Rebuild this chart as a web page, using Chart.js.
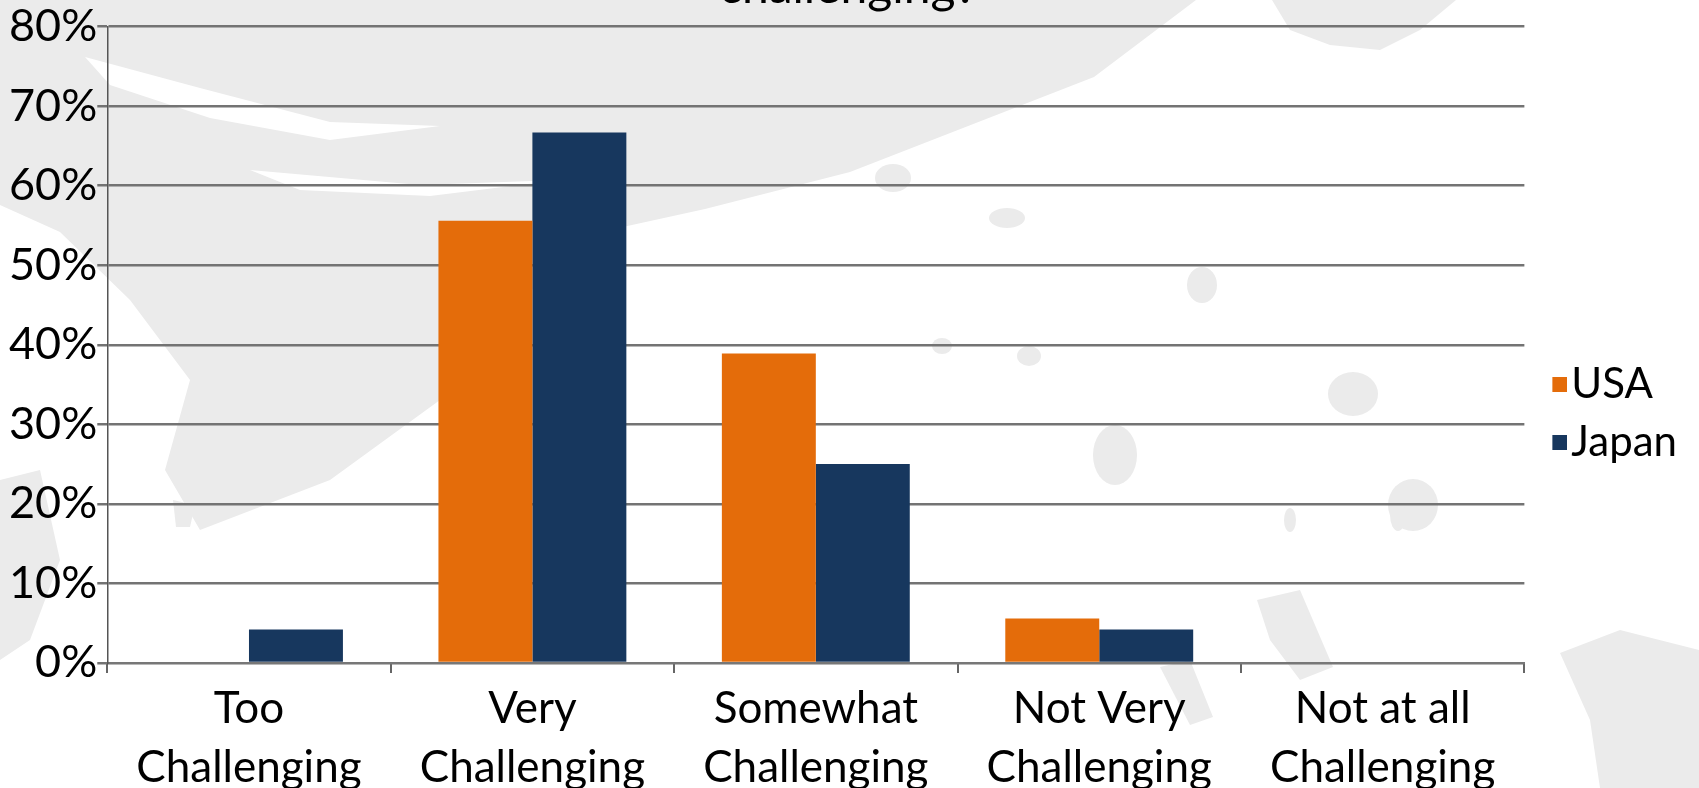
<!DOCTYPE html>
<html>
<head>
<meta charset="utf-8">
<script src="https://cdn.jsdelivr.net/npm/chart.js@4.4.1/dist/chart.umd.min.js"></script>
<style>
  html, body { margin: 0; padding: 0; background: #fff; overflow: hidden; }
  #wrap { position: absolute; left: 0; top: -41px; width: 1699px; height: 845px; }
</style>
</head>
<body>
<div id="wrap"><canvas id="chart"></canvas></div>
<script>
// respuestas por categoria (%)
const categories = [
    ['Too', 'Challenging'],
    ['Very', 'Challenging'],
    ['Somewhat', 'Challenging'],
    ['Not Very', 'Challenging'],
    ['Not at all', 'Challenging']
];
const usaValues = [0, 55.6, 38.9, 5.6, 0];
const japanValues = [4.2, 66.7, 25.0, 4.2, 0];
const seriesNames = ['USA', 'Japan'];
const seriesColors = ['#E46C0A', '#17375E'];
const yMax = 80;
const yStep = 10;

const FONT = 'Lato';
const OFFSET_Y = 41; // el canvas empieza 41px por encima de la pagina

// cuadrito de leyenda pegado al texto
function swatch(color) {
    const c = document.createElement('canvas');
    c.width = 44;
    c.height = 15;
    const g = c.getContext('2d');
    g.fillStyle = color;
    g.fillRect(29, 0, 15, 15);
    return c;
}

// fondo tipo pincelada gris (coordenadas de pagina)
const brushShapes = [
    [[0,0],[1196,0],[1094,77],[850,172],[705,209],[600,232],[520,300],[440,400],[330,480],[200,530],[165,470],[190,380],[130,300],[60,232],[0,205]],
    [[1272,0],[1456,0],[1420,30],[1380,50],[1330,45],[1290,30]],
    [[1257,600],[1300,590],[1333,667],[1300,680],[1270,640]],
    [[1160,667],[1190,660],[1213,717],[1190,725]],
    [[1560,653],[1620,630],[1699,650],[1699,788],[1600,788],[1590,720]],
    [[173,500],[195,505],[190,527],[176,527]],
    [[0,480],[40,470],[60,560],[30,640],[0,660]]
];
// vetas blancas dentro de la pincelada
const whiteStrokes = [
    [[85,57],[200,88],[330,122],[440,126],[330,140],[210,118],[110,85]],
    [[250,170],[420,185],[560,180],[430,196],[300,190]]
];
const brushBlobs = [[893,178,18,14],[1007,218,18,10],[1202,285,15,18],[1353,394,25,22],[1115,455,22,30],[1413,505,25,26],[942,346,10,8],[1029,356,12,10],[1290,520,6,12],[1398,515,8,16]];

const brushBackground = {
    id: 'brushBackground',
    beforeDraw(chart) {
        const ctx = chart.ctx;
        const poly = pts => {
            ctx.beginPath();
            pts.forEach((p, i) => i ? ctx.lineTo(p[0], p[1]) : ctx.moveTo(p[0], p[1]));
            ctx.closePath();
            ctx.fill();
        };
        ctx.save();
        ctx.translate(0, OFFSET_Y);
        ctx.fillStyle = '#ebebeb';
        brushShapes.forEach(poly);
        brushBlobs.forEach(b => {
            ctx.beginPath();
            ctx.ellipse(b[0], b[1], b[2], b[3], 0, 0, Math.PI * 2);
            ctx.fill();
        });
        ctx.fillStyle = '#ffffff';
        whiteStrokes.forEach(poly);
        ctx.restore();
    }
};

new Chart(document.getElementById('chart'), {
    type: 'bar',
    data: {
        labels: categories,
        datasets: [
            { label: seriesNames[0], data: usaValues, backgroundColor: seriesColors[0] },
            { label: seriesNames[1], data: japanValues, backgroundColor: seriesColors[1] }
        ]
    },
    options: {
        responsive: true,
        maintainAspectRatio: false,
        animation: false,
        layout: { padding: { left: 9, right: 12, top: 0, bottom: 0 } },
        datasets: { bar: { categoryPercentage: 0.663, barPercentage: 1.0 } },
        plugins: {
            title: {
                display: true,
                text: 'challenging?',
                color: '#000',
                font: { family: FONT, size: 48, weight: 'normal' },
                padding: { top: 0, bottom: 10 }
            },
            legend: {
                position: 'right',
                title: { display: true, text: '', padding: { top: 50, bottom: 0 } },
                labels: {
                    color: '#000',
                    font: { family: FONT, size: 42 },
                    usePointStyle: true,
                    pointStyleWidth: 10,
                    padding: 16,
                    generateLabels(chart) {
                        const items = Chart.defaults.plugins.legend.labels.generateLabels(chart);
                        items.forEach((it, i) => { it.pointStyle = swatch(seriesColors[i]); });
                        return items;
                    }
                }
            },
            tooltip: { enabled: false }
        },
        scales: {
            x: {
                grid: {
                    display: true,
                    drawOnChartArea: false,
                    drawTicks: true,
                    tickLength: 10,
                    tickColor: '#666',
                    lineWidth: 2
                },
                border: { display: true, color: '#777', width: 2 },
                ticks: {
                    color: '#000',
                    padding: 7,
                    maxRotation: 0,
                    autoSkip: false,
                    font: { family: FONT, size: 44, lineHeight: 1.33 }
                }
            },
            y: {
                min: 0,
                max: yMax,
                grid: {
                    color: '#737373',
                    lineWidth: 2.5,
                    tickLength: 10,
                    tickColor: '#737373'
                },
                border: { display: true, color: '#555', width: 1.5 },
                ticks: {
                    stepSize: yStep,
                    color: '#000',
                    padding: 0,
                    font: { family: FONT, size: 45 },
                    callback: v => v + '%'
                }
            }
        }
    },
    plugins: [brushBackground]
});
</script>
</body>
</html>
